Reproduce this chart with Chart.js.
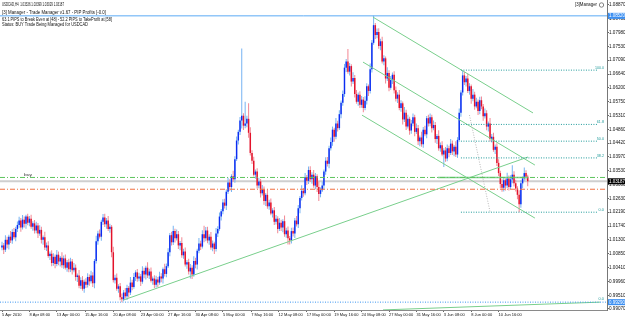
<!DOCTYPE html>
<html>
<head>
<meta charset="utf-8">
<script src="https://cdn.jsdelivr.net/npm/chart.js@4.4.1/dist/chart.umd.min.js"></script>
<style>
  html, body { margin: 0; padding: 0; background: #fff; }
  #chart { display: block; }
</style>
</head>
<body>
<canvas id="chart" width="625" height="319"></canvas>
<script>
// USDCAD H4 candles, 5 Apr 2010 -> 11 Jun 2010
const opens = [
  1.0105, 1.0112, 1.0098, 1.0130, 1.0115, 1.0140, 1.0128, 1.0155, 1.0138, 1.0165,
  1.0178, 1.0192, 1.0170, 1.0195, 1.0182, 1.0205, 1.0185, 1.0198, 1.0172, 1.0183,
  1.0160, 1.0176, 1.0150, 1.0162, 1.0130, 1.0138, 1.0105, 1.0112, 1.0078, 1.0085,
  1.0055, 1.0075, 1.0052, 1.0082, 1.0060, 1.0072, 1.0048, 1.0070, 1.0040, 1.0058,
  1.0035, 1.0060, 1.0032, 1.0040, 1.0010, 1.0015, 0.9982, 1.0000, 0.9972, 0.9995,
  0.9985, 1.0010, 0.9996, 1.0015, 0.9990, 1.0062, 1.0125, 1.0150, 1.0140, 1.0188,
  1.0202, 1.0180, 1.0192, 1.0165, 1.0172, 1.0090, 1.0000, 1.0008, 0.9972, 0.9980,
  0.9945, 0.9938, 0.9960, 0.9948, 0.9975, 0.9960, 0.9992, 0.9978, 1.0010, 1.0025,
  1.0005, 1.0012, 0.9995, 1.0030, 1.0018, 1.0040, 1.0015, 1.0028, 0.9998, 1.0005,
  0.9985, 1.0002, 0.9992, 1.0012, 1.0005, 1.0035, 1.0020, 1.0045, 1.0090, 1.0145,
  1.0122, 1.0158, 1.0135, 1.0148, 1.0112, 1.0120, 1.0080, 1.0092, 1.0050, 1.0058,
  1.0028, 1.0040, 1.0018, 1.0062, 1.0050, 1.0095, 1.0118, 1.0108, 1.0148, 1.0135,
  1.0160, 1.0128, 1.0140, 1.0105, 1.0118, 1.0100, 1.0150, 1.0165, 1.0205, 1.0222,
  1.0250, 1.0240, 1.0285, 1.0315, 1.0300, 1.0335, 1.0325, 1.0390, 1.0450, 1.0478,
  1.0515, 1.0530, 1.0498, 1.0505, 1.0520, 1.0475, 1.0410, 1.0385, 1.0340, 1.0350,
  1.0305, 1.0318, 1.0280, 1.0292, 1.0255, 1.0275, 1.0238, 1.0250, 1.0215, 1.0225,
  1.0188, 1.0198, 1.0165, 1.0185, 1.0170, 1.0190, 1.0148, 1.0160, 1.0135, 1.0128,
  1.0158, 1.0150, 1.0192, 1.0180, 1.0232, 1.0265, 1.0288, 1.0280, 1.0332, 1.0320,
  1.0355, 1.0325, 1.0340, 1.0305, 1.0335, 1.0300, 1.0278, 1.0290, 1.0305, 1.0350,
  1.0385, 1.0375, 1.0425, 1.0445, 1.0485, 1.0462, 1.0505, 1.0490, 1.0535, 1.0572,
  1.0600, 1.0685, 1.0705, 1.0672, 1.0690, 1.0640, 1.0652, 1.0600, 1.0575, 1.0598,
  1.0565, 1.0582, 1.0555, 1.0578, 1.0625, 1.0610, 1.0680, 1.0765, 1.0822, 1.0790,
  1.0800, 1.0755, 1.0770, 1.0705, 1.0715, 1.0650, 1.0668, 1.0620, 1.0645, 1.0662,
  1.0612, 1.0585, 1.0598, 1.0555, 1.0570, 1.0518, 1.0540, 1.0495, 1.0520, 1.0482,
  1.0505, 1.0525, 1.0478, 1.0490, 1.0448, 1.0460, 1.0438, 1.0485, 1.0470, 1.0522,
  1.0505, 1.0525, 1.0490, 1.0500, 1.0455, 1.0465, 1.0425, 1.0435, 1.0405, 1.0418,
  1.0392, 1.0425, 1.0410, 1.0440, 1.0415, 1.0430, 1.0405, 1.0452, 1.0540, 1.0605,
  1.0660, 1.0638, 1.0650, 1.0610, 1.0625, 1.0585, 1.0598, 1.0560, 1.0575, 1.0545,
  1.0580, 1.0560, 1.0528, 1.0538, 1.0495, 1.0505, 1.0455, 1.0462, 1.0420, 1.0430,
  1.0378, 1.0345, 1.0310, 1.0298, 1.0322, 1.0305, 1.0328, 1.0300, 1.0325, 1.0340,
  1.0312, 1.0295, 1.0275, 1.0245, 1.0312, 1.0328, 1.0345, 1.03336
];
const highs = [
  1.0124, 1.0120, 1.0145, 1.0140, 1.0146, 1.0158, 1.0164, 1.0168, 1.0172, 1.0189,
  1.0204, 1.0200, 1.0210, 1.0205, 1.0211, 1.0214, 1.0207, 1.0211, 1.0190, 1.0194,
  1.0188, 1.0184, 1.0177, 1.0172, 1.0144, 1.0156, 1.0121, 1.0125, 1.0092, 1.0096,
  1.0087, 1.0083, 1.0097, 1.0092, 1.0078, 1.0090, 1.0079, 1.0083, 1.0065, 1.0069,
  1.0072, 1.0068, 1.0055, 1.0050, 1.0021, 1.0033, 1.0009, 1.0013, 1.0002, 1.0006,
  1.0022, 1.0018, 1.0030, 1.0025, 1.0068, 1.0143, 1.0159, 1.0163, 1.0195, 1.0213,
  1.0214, 1.0200, 1.0207, 1.0182, 1.0178, 1.0108, 1.0017, 1.0021, 0.9987, 0.9991,
  0.9957, 0.9968, 0.9975, 0.9985, 0.9981, 1.0010, 1.0001, 1.0023, 1.0032, 1.0036,
  1.0024, 1.0020, 1.0045, 1.0040, 1.0046, 1.0058, 1.0037, 1.0041, 1.0012, 1.0016,
  1.0014, 1.0010, 1.0027, 1.0022, 1.0041, 1.0053, 1.0054, 1.0103, 1.0152, 1.0156,
  1.0175, 1.0166, 1.0163, 1.0158, 1.0126, 1.0138, 1.0101, 1.0105, 1.0065, 1.0069,
  1.0052, 1.0048, 1.0077, 1.0072, 1.0101, 1.0136, 1.0127, 1.0161, 1.0175, 1.0171,
  1.0172, 1.0148, 1.0155, 1.0128, 1.0124, 1.0168, 1.0174, 1.0218, 1.0229, 1.0261,
  1.0262, 1.0293, 1.0330, 1.0325, 1.0341, 1.0353, 1.0399, 1.0463, 1.0485, 1.0526,
  1.0747, 1.0538, 1.0575, 1.0530, 1.0570, 1.0493, 1.0419, 1.0398, 1.0357, 1.0361,
  1.0330, 1.0326, 1.0307, 1.0302, 1.0281, 1.0293, 1.0259, 1.0263, 1.0232, 1.0236,
  1.0210, 1.0206, 1.0200, 1.0195, 1.0196, 1.0208, 1.0169, 1.0173, 1.0142, 1.0169,
  1.0170, 1.0200, 1.0207, 1.0242, 1.0271, 1.0306, 1.0297, 1.0345, 1.0339, 1.0366,
  1.0367, 1.0348, 1.0355, 1.0345, 1.0341, 1.0318, 1.0299, 1.0318, 1.0357, 1.0396,
  1.0397, 1.0433, 1.0460, 1.0495, 1.0491, 1.0523, 1.0514, 1.0548, 1.0579, 1.0611,
  1.0697, 1.0713, 1.0745, 1.0700, 1.0696, 1.0670, 1.0661, 1.0613, 1.0605, 1.0609,
  1.0594, 1.0590, 1.0593, 1.0635, 1.0631, 1.0698, 1.0774, 1.0852, 1.0829, 1.0811,
  1.0812, 1.0778, 1.0785, 1.0725, 1.0721, 1.0686, 1.0677, 1.0658, 1.0669, 1.0673,
  1.0624, 1.0606, 1.0613, 1.0580, 1.0576, 1.0558, 1.0549, 1.0533, 1.0527, 1.0516,
  1.0537, 1.0533, 1.0505, 1.0500, 1.0466, 1.0478, 1.0494, 1.0498, 1.0529, 1.0533,
  1.0537, 1.0533, 1.0515, 1.0510, 1.0471, 1.0483, 1.0444, 1.0448, 1.0425, 1.0429,
  1.0437, 1.0433, 1.0455, 1.0450, 1.0436, 1.0448, 1.0461, 1.0553, 1.0612, 1.0677,
  1.0672, 1.0658, 1.0665, 1.0635, 1.0631, 1.0616, 1.0607, 1.0588, 1.0582, 1.0591,
  1.0592, 1.0568, 1.0553, 1.0548, 1.0511, 1.0523, 1.0471, 1.0475, 1.0437, 1.0441,
  1.0390, 1.0353, 1.0325, 1.0332, 1.0328, 1.0346, 1.0337, 1.0338, 1.0370, 1.0351,
  1.0324, 1.0303, 1.0290, 1.0322, 1.0334, 1.0363, 1.0354, 1.03399
];
const lows = [
  1.0096, 1.0084, 1.0091, 1.0103, 1.0099, 1.0120, 1.0117, 1.0132, 1.0125, 1.0155,
  1.0169, 1.0156, 1.0163, 1.0170, 1.0166, 1.0177, 1.0174, 1.0166, 1.0159, 1.0150,
  1.0151, 1.0136, 1.0143, 1.0118, 1.0114, 1.0097, 1.0094, 1.0072, 1.0065, 1.0045,
  1.0046, 1.0038, 1.0045, 1.0048, 1.0044, 1.0040, 1.0037, 1.0034, 1.0027, 1.0025,
  1.0026, 1.0018, 1.0025, 0.9998, 0.9994, 0.9974, 0.9971, 0.9966, 0.9959, 0.9975,
  0.9976, 0.9982, 0.9989, 0.9978, 0.9974, 1.0054, 1.0114, 1.0134, 1.0127, 1.0178,
  1.0171, 1.0166, 1.0158, 1.0153, 1.0074, 0.9992, 0.9989, 0.9966, 0.9959, 0.9935,
  0.9929, 0.9932, 0.9941, 0.9936, 0.9944, 0.9952, 0.9967, 0.9972, 0.9997, 0.9995,
  0.9996, 0.9981, 0.9988, 1.0006, 1.0002, 1.0007, 1.0004, 0.9992, 0.9985, 0.9975,
  0.9976, 0.9978, 0.9985, 0.9993, 0.9989, 1.0012, 1.0009, 1.0039, 1.0077, 1.0112,
  1.0113, 1.0121, 1.0128, 1.0100, 1.0096, 1.0072, 1.0069, 1.0044, 1.0037, 1.0018,
  1.0005, 1.0004, 1.0011, 1.0038, 1.0034, 1.0087, 1.0097, 1.0102, 1.0122, 1.0125,
  1.0119, 1.0114, 1.0098, 1.0093, 1.0084, 1.0092, 1.0139, 1.0159, 1.0192, 1.0212,
  1.0231, 1.0226, 1.0278, 1.0288, 1.0284, 1.0317, 1.0314, 1.0384, 1.0437, 1.0468,
  1.0489, 1.0484, 1.0490, 1.0493, 1.0459, 1.0402, 1.0374, 1.0334, 1.0327, 1.0295,
  1.0296, 1.0266, 1.0273, 1.0243, 1.0239, 1.0230, 1.0227, 1.0209, 1.0202, 1.0178,
  1.0179, 1.0151, 1.0158, 1.0158, 1.0154, 1.0140, 1.0137, 1.0115, 1.0115, 1.0118,
  1.0141, 1.0136, 1.0173, 1.0168, 1.0216, 1.0257, 1.0269, 1.0274, 1.0307, 1.0310,
  1.0316, 1.0311, 1.0298, 1.0293, 1.0284, 1.0255, 1.0267, 1.0284, 1.0292, 1.0340,
  1.0366, 1.0361, 1.0418, 1.0433, 1.0446, 1.0454, 1.0479, 1.0484, 1.0522, 1.0562,
  1.0591, 1.0671, 1.0665, 1.0660, 1.0624, 1.0632, 1.0589, 1.0569, 1.0562, 1.0555,
  1.0556, 1.0541, 1.0548, 1.0566, 1.0594, 1.0602, 1.0669, 1.0759, 1.0777, 1.0780,
  1.0746, 1.0741, 1.0698, 1.0693, 1.0634, 1.0642, 1.0609, 1.0614, 1.0632, 1.0602,
  1.0576, 1.0571, 1.0548, 1.0543, 1.0502, 1.0510, 1.0484, 1.0489, 1.0469, 1.0472,
  1.0496, 1.0464, 1.0471, 1.0436, 1.0432, 1.0430, 1.0427, 1.0464, 1.0457, 1.0495,
  1.0496, 1.0476, 1.0483, 1.0443, 1.0439, 1.0417, 1.0414, 1.0399, 1.0365, 1.0382,
  1.0383, 1.0396, 1.0403, 1.0403, 1.0399, 1.0397, 1.0394, 1.0446, 1.0527, 1.0595,
  1.0629, 1.0624, 1.0603, 1.0598, 1.0569, 1.0577, 1.0549, 1.0554, 1.0532, 1.0535,
  1.0551, 1.0514, 1.0521, 1.0483, 1.0479, 1.0447, 1.0444, 1.0414, 1.0407, 1.0368,
  1.0336, 1.0296, 1.0285, 1.0286, 1.0289, 1.0297, 1.0289, 1.0294, 1.0312, 1.0302,
  1.0286, 1.0261, 1.0219, 1.0233, 1.0296, 1.0320, 1.0323, 1.03029
];
const closes = [
  1.0112, 1.0098, 1.0130, 1.0115, 1.0140, 1.0128, 1.0155, 1.0138, 1.0165, 1.0178,
  1.0192, 1.0170, 1.0195, 1.0182, 1.0205, 1.0185, 1.0198, 1.0172, 1.0183, 1.0160,
  1.0176, 1.0150, 1.0162, 1.0130, 1.0138, 1.0105, 1.0112, 1.0078, 1.0085, 1.0055,
  1.0075, 1.0052, 1.0082, 1.0060, 1.0072, 1.0048, 1.0070, 1.0040, 1.0058, 1.0035,
  1.0060, 1.0032, 1.0040, 1.0010, 1.0015, 0.9982, 1.0000, 0.9972, 0.9995, 0.9985,
  1.0010, 0.9996, 1.0015, 0.9990, 1.0062, 1.0125, 1.0150, 1.0140, 1.0188, 1.0202,
  1.0180, 1.0192, 1.0165, 1.0172, 1.0090, 1.0000, 1.0008, 0.9972, 0.9980, 0.9945,
  0.9938, 0.9960, 0.9948, 0.9975, 0.9960, 0.9992, 0.9978, 1.0010, 1.0025, 1.0005,
  1.0012, 0.9995, 1.0030, 1.0018, 1.0040, 1.0015, 1.0028, 0.9998, 1.0005, 0.9985,
  1.0002, 0.9992, 1.0012, 1.0005, 1.0035, 1.0020, 1.0045, 1.0090, 1.0145, 1.0122,
  1.0158, 1.0135, 1.0148, 1.0112, 1.0120, 1.0080, 1.0092, 1.0050, 1.0058, 1.0028,
  1.0040, 1.0018, 1.0062, 1.0050, 1.0095, 1.0118, 1.0108, 1.0148, 1.0135, 1.0160,
  1.0128, 1.0140, 1.0105, 1.0118, 1.0100, 1.0150, 1.0165, 1.0205, 1.0222, 1.0250,
  1.0240, 1.0285, 1.0315, 1.0300, 1.0335, 1.0325, 1.0390, 1.0450, 1.0478, 1.0515,
  1.0530, 1.0498, 1.0505, 1.0520, 1.0475, 1.0410, 1.0385, 1.0340, 1.0350, 1.0305,
  1.0318, 1.0280, 1.0292, 1.0255, 1.0275, 1.0238, 1.0250, 1.0215, 1.0225, 1.0188,
  1.0198, 1.0165, 1.0185, 1.0170, 1.0190, 1.0148, 1.0160, 1.0135, 1.0128, 1.0158,
  1.0150, 1.0192, 1.0180, 1.0232, 1.0265, 1.0288, 1.0280, 1.0332, 1.0320, 1.0355,
  1.0325, 1.0340, 1.0305, 1.0335, 1.0300, 1.0278, 1.0290, 1.0305, 1.0350, 1.0385,
  1.0375, 1.0425, 1.0445, 1.0485, 1.0462, 1.0505, 1.0490, 1.0535, 1.0572, 1.0600,
  1.0685, 1.0705, 1.0672, 1.0690, 1.0640, 1.0652, 1.0600, 1.0575, 1.0598, 1.0565,
  1.0582, 1.0555, 1.0578, 1.0625, 1.0610, 1.0680, 1.0765, 1.0822, 1.0790, 1.0800,
  1.0755, 1.0770, 1.0705, 1.0715, 1.0650, 1.0668, 1.0620, 1.0645, 1.0662, 1.0612,
  1.0585, 1.0598, 1.0555, 1.0570, 1.0518, 1.0540, 1.0495, 1.0520, 1.0482, 1.0505,
  1.0525, 1.0478, 1.0490, 1.0448, 1.0460, 1.0438, 1.0485, 1.0470, 1.0522, 1.0505,
  1.0525, 1.0490, 1.0500, 1.0455, 1.0465, 1.0425, 1.0435, 1.0405, 1.0418, 1.0392,
  1.0425, 1.0410, 1.0440, 1.0415, 1.0430, 1.0405, 1.0452, 1.0540, 1.0605, 1.0660,
  1.0638, 1.0650, 1.0610, 1.0625, 1.0585, 1.0598, 1.0560, 1.0575, 1.0545, 1.0580,
  1.0560, 1.0528, 1.0538, 1.0495, 1.0505, 1.0455, 1.0462, 1.0420, 1.0430, 1.0378,
  1.0345, 1.0310, 1.0298, 1.0322, 1.0305, 1.0328, 1.0300, 1.0325, 1.0340, 1.0312,
  1.0295, 1.0275, 1.0245, 1.0312, 1.0328, 1.0345, 1.03336, 1.03187
];

// time axis: bar index of each date label
const dateTicks = [0, 16, 32, 48.5, 65, 81, 97, 113, 129, 145.5, 161.5, 178, 194, 210, 226, 242, 258, 274, 290];
const dateLabels = ["5 Apr 2010", "8 Apr 08:00", "13 Apr 00:00", "15 Apr 16:00", "20 Apr 08:00", "23 Apr 00:00",
  "27 Apr 16:00", "30 Apr 08:00", "5 May 00:00", "7 May 16:00", "12 May 08:00", "17 May 00:00", "19 May 16:00",
  "24 May 08:00", "27 May 00:00", "31 May 16:00", "3 Jun 08:00", "8 Jun 00:00", "10 Jun 16:00"];
const priceTicks = [0.99070, 0.99510, 0.99960, 1.00410, 1.00850, 1.01300, 1.01740, 1.02190, 1.02630, 1.03080,
  1.03530, 1.03970, 1.04420, 1.04860, 1.05310, 1.05750, 1.06200, 1.06640, 1.07090, 1.07530, 1.07980, 1.08430, 1.08870];

// levels and drawn objects (bar index, price)
const highLevel = 1.0852;
const lowLevel = 0.9929;
const buyLevel = 1.0331;
const bidLevel = 1.03187;
const stopLevel = 1.0293;
const fibLevels = [1.0677, 1.0502, 1.0448, 1.0394, 1.0219];
const fibNames = ["100.0", "61.8", "50.0", "38.2", "0.0"];
const fibRange = [268, 347.5];
const supportLine = [71, 0.9936, 307.2, 1.0397];
const channelLines = [
  [216.6, 1.0848, 310.1, 1.0539],
  [210.8, 1.0703, 311.2, 1.0371],
  [210.2, 1.0532, 311.2, 1.0200]
];
const fibTrend = [273, 1.0532, 285, 1.0220];
const bottomLine = [222.5, 0.9904, 349.2, 0.9929];
const buyZone = [254.6, 307.2];

const headerTexts = [
  "USDCAD,H4  1.03336 1.03399 1.03029 1.03187",
  "[3] Manager - Trade Manager v1.67 - PIP Profits [-0.0]",
  "63.1 PIPS to Break Even at [48] - 52.2 PIPS to TakeProfit at [58]",
  "Status: BUY Trade Being Managed for USDCAD"
];

const xMin = -1.17;
const xMax = 353.3;
const yMin = 0.99037;
const yMax = 1.09031;

const FONT = '"Liberation Sans", Arial, sans-serif';
const upBody = "#0b2cf2";
const downBody = "#e3132b";
const upWick = "#79b5f2";
const downWick = "#f28a96";

const isUp = (i) => closes[i] >= opens[i];

const seg = (a) => [{ x: a[0], y: a[1] }, { x: a[2], y: a[3] }];
const hline = (v, from = xMin, to = xMax) => [{ x: from, y: v }, { x: to, y: v }];

const lineSet = (data, color, width, dash, order = -1) => ({
  type: "line",
  data,
  borderColor: color,
  borderWidth: width,
  borderDash: dash,
  pointRadius: 0,
  fill: false,
  tension: 0,
  order,
});

const fitText = (ctx, text, x, y, w, size) => {
  ctx.font = `${size}px ${FONT}`;
  const m = ctx.measureText(text).width;
  ctx.save();
  ctx.translate(x, y);
  ctx.scale(w / m, 1);
  ctx.fillText(text, 0, 0);
  ctx.restore();
};

const overlay = {
  id: "overlay",
  afterDraw(chart) {
    const { ctx, scales } = chart;
    const y = scales.y;
    const right = chart.chartArea.right;
    ctx.save();
    ctx.textBaseline = "middle";

    // header block
    ctx.fillStyle = "#111";
    ctx.textAlign = "left";
    const headerY = [4.5, 12.5, 19.5, 24.5];
    const headerW = [62, 104, 110, 86];
    headerTexts.forEach((t, k) => fitText(ctx, t, 2, headerY[k], headerW[k], 4.6));

    // expert label, top right
    fitText(ctx, "[3]Manager", 575, 5, 22, 4.6);
    ctx.strokeStyle = "#666";
    ctx.lineWidth = 0.8;
    ctx.beginPath();
    ctx.arc(601.5, 5, 2.2, 0, Math.PI * 2);
    ctx.stroke();

    // "buy" tag
    ctx.fillStyle = "#333";
    fitText(ctx, "buy", 24, y.getPixelForValue(buyLevel) - 3, 8, 4.4);

    // fibo level names
    ctx.fillStyle = "#1f9a9a";
    fibLevels.forEach((v, k) => {
      const t = fibNames[k];
      fitText(ctx, t, right - 3 - t.length * 1.8, y.getPixelForValue(v) - 2.5, t.length * 1.8, 4.4);
    });
    fitText(ctx, "0.0", right - 8.4, y.getPixelForValue(lowLevel) - 3, 5.4, 4.4);

    // price boxes on the axis
    const box = (v, text, fill) => {
      const py = y.getPixelForValue(v);
      ctx.fillStyle = fill;
      ctx.fillRect(right + 1, py - 3, 18, 6);
      ctx.fillStyle = "#fff";
      fitText(ctx, text, right + 2, py + 0.3, 16, 4.6);
    };
    box(highLevel, "1.08520", "#3b8ff2");
    box(bidLevel, "1.03187", "#000");
    box(lowLevel, "0.99290", "#3b8ff2");
    ctx.restore();
  },
};

const bars = closes.map((_, i) => i);

new Chart(document.getElementById("chart"), {
  type: "bar",
  data: {
    datasets: [
      // candle bodies
      {
        data: bars.map((i) => ({ x: i, y: [opens[i], closes[i]] })),
        backgroundColor: (c) => (isUp(c.dataIndex) ? upBody : downBody),
        grouped: false,
        categoryPercentage: 1,
        barPercentage: 0.85,
        minBarLength: 0.6,
        borderWidth: 0,
        inflateAmount: 0,
        order: 1,
      },
      // wicks
      {
        data: bars.map((i) => ({ x: i, y: [lows[i], highs[i]] })),
        backgroundColor: (c) => (isUp(c.dataIndex) ? upWick : downWick),
        grouped: false,
        categoryPercentage: 1,
        barPercentage: 0.6,
        borderWidth: 0,
        inflateAmount: 0,
        order: 2,
      },
      lineSet(hline(bidLevel), "#cfcfcf", 2, [], 3),
      lineSet(hline(highLevel), "#5aaaf5", 1, []),
      lineSet(hline(lowLevel), "#3d95f0", 1, [1, 1.5]),
      lineSet(hline(buyLevel), "#5cc45c", 1, [5, 2, 1, 2]),
      lineSet(hline(stopLevel), "#f07040", 1, [5, 2, 1, 2]),
      lineSet(hline(buyLevel, buyZone[0], buyZone[1]), "#7ed08e", 1.5, []),
      ...fibLevels.map((v) => lineSet(hline(v, fibRange[0], fibRange[1]), "#1f9a9a", 1, [1, 1.5])),
      lineSet(seg(fibTrend), "#b8b8b8", 1, [1, 1.5]),
      lineSet(seg(supportLine), "#79cf8c", 1, []),
      ...channelLines.map((l) => lineSet(seg(l), "#79cf8c", 1, [])),
      lineSet(seg(bottomLine), "#79cf8c", 1, []),
    ],
  },
  options: {
    responsive: false,
    animation: false,
    devicePixelRatio: 1,
    layout: { padding: 0 },
    plugins: {
      legend: { display: false },
      tooltip: { enabled: false },
      title: { display: false },
    },
    scales: {
      x: {
        type: "linear",
        position: "bottom",
        min: xMin,
        max: xMax,
        offset: false,
        grid: { drawOnChartArea: false, drawTicks: true, tickLength: 2, color: "#666", offset: false },
        border: { display: true, color: "#8a8a8a", width: 1 },
        ticks: {
          autoSkip: false,
          maxRotation: 0,
          minRotation: 0,
          align: "start",
          padding: 0.5,
          color: "#111",
          font: { family: FONT, size: 4 },
          callback: (v, i) => dateLabels[i],
        },
        afterBuildTicks: (s) => {
          s.ticks = dateTicks.map((v) => ({ value: v }));
        },
        afterFit: (s) => {
          s.height = 9;
          s.paddingLeft = 0;
          s.paddingRight = 0;
        },
      },
      y: {
        type: "linear",
        position: "right",
        min: yMin,
        max: yMax,
        beginAtZero: false,
        grid: { drawOnChartArea: false, drawTicks: true, tickLength: 2, color: "#666" },
        border: { display: true, color: "#777", width: 1 },
        ticks: {
          autoSkip: false,
          padding: 0,
          color: "#111",
          font: { family: FONT, size: 4.6 },
          callback: (v) => Number(v).toFixed(5),
        },
        afterBuildTicks: (s) => {
          s.ticks = priceTicks.map((v) => ({ value: v }));
        },
        afterFit: (s) => {
          s.width = 18;
          s.paddingTop = 0;
          s.paddingBottom = 0;
        },
      },
    },
  },
  plugins: [overlay],
});
</script>
</body>
</html>
